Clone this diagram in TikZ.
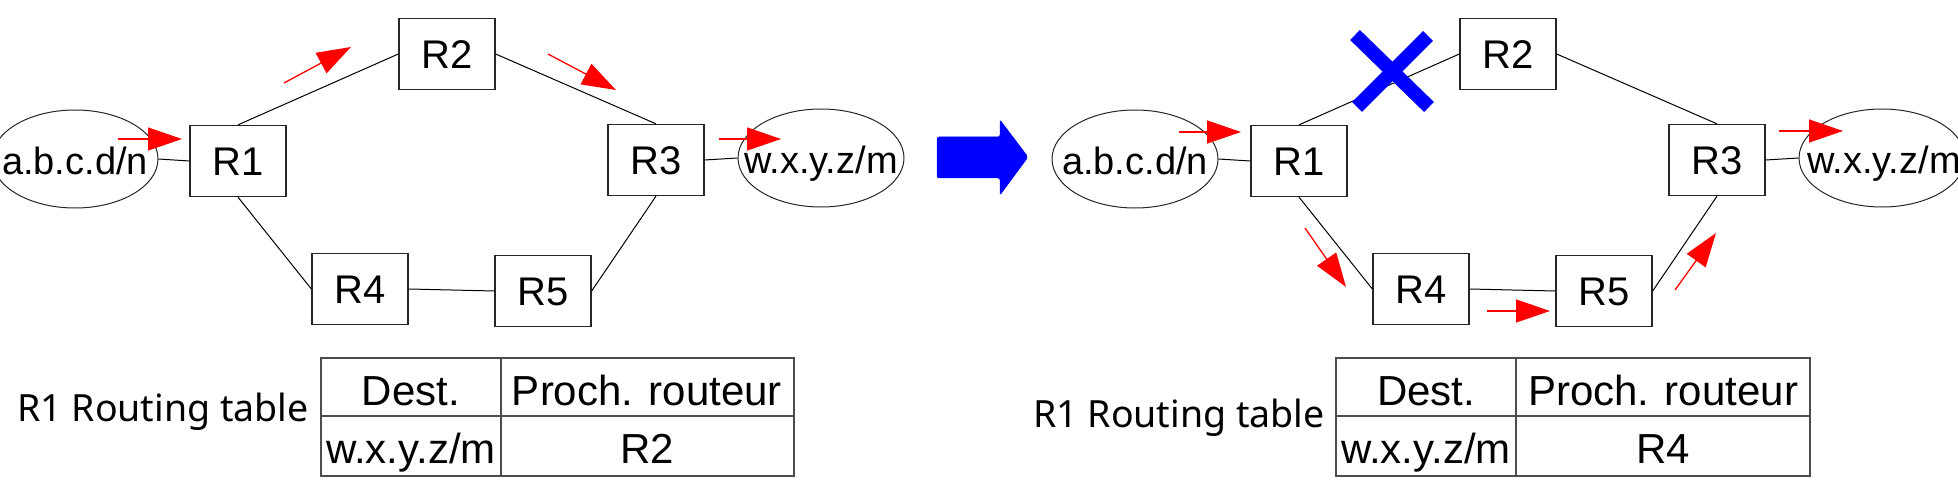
\documentclass[tikz,border=0pt]{standalone}
\usepackage{fontspec}
\setmainfont{Liberation Sans}
\newfontfamily\notosans{Noto Sans}
\usetikzlibrary{arrows.meta,shapes.geometric}
\begin{document}
\begin{tikzpicture}[x=1pt,y=-1pt,
  router/.style={draw=black!85,line width=1.3pt,minimum width=96pt,minimum height=71pt,inner sep=0pt,font=\fontsize{40}{48}\selectfont,text height=28.6pt,text depth=0pt},
  net/.style={draw=black!85,line width=1pt,ellipse,minimum width=166pt,minimum height=98pt,inner sep=0pt},
  nettext/.style={font=\fontsize{38}{46}\selectfont,text height=27.2pt,text depth=0pt,inner sep=0pt},
  link/.style={draw=black,line width=1pt},
  flow/.style={draw=red,line width=1.3pt,-{Triangle[length=34pt,width=23pt]}},
  tab/.style={draw=black!70,line width=1.3pt},
  tabtext/.style={font=\fontsize{42}{50}\selectfont,anchor=base,inner sep=0pt},
  caption/.style={font=\notosans\fontsize{37.5}{45}\selectfont,anchor=base west,inner sep=0pt},
  bigarrow/.style={fill=blue,draw=blue,line width=0.5pt,rounded corners=2pt},
  cross/.style={draw=blue,line width=14pt}
]
\useasboundingbox (0,0) rectangle (1958,489);

% ---------- left network ----------
\node[net] (La) at (75,159) {};
\node[nettext] (Lat) at (75,161) {a.b.c.d/n};
\node[net] (Lw) at (821,158) {};
\node[nettext] (Lwt) at (821,160) {w.x.y.z/m};
\node[router] (L1) at (238,161) {R1};
\node[router] (L2) at (447,54) {R2};
\node[router] (L3) at (656,160) {R3};
\node[router] (L4) at (360,289) {R4};
\node[router] (L5) at (543,291) {R5};
\draw[link] (La.east) -- (L1.west);
\draw[link] (L1.north) -- (L2.west);
\draw[link] (L2.east) -- (L3.north);
\draw[link] (L1.south) -- (L4.west);
\draw[link] (L4.east) -- (L5.west);
\draw[link] (L5.east) -- (L3.south);
\draw[link] (L3.east) -- (Lw.west);

\coordinate (lf1s) at (118,139); \coordinate (lf1e) at (182,139);
\coordinate (lf2s) at (284,83);  \coordinate (lf2e) at (351,47);
\coordinate (lf3s) at (548,54);  \coordinate (lf3e) at (616,90);
\coordinate (lf4s) at (719,139); \coordinate (lf4e) at (781,139);
\draw[flow] (lf1s) -- (lf1e);
\draw[flow] (lf2s) -- (lf2e);
\draw[flow] (lf3s) -- (lf3e);
\draw[flow] (lf4s) -- (lf4e);

% ---------- big blue arrow ----------
\path[bigarrow] (937,137) -- (1000,137) -- (1000,120) -- (1028,157) -- (1000,195) -- (1000,178) -- (937,178) -- cycle;

% ---------- right network ----------
\node[net] (Ra) at (1135,159) {};
\node[nettext] (Rat) at (1135,161) {a.b.c.d/n};
\node[net] (Rw) at (1882,158) {};
\node[nettext] (Rwt) at (1884,160) {w.x.y.z/m};
\node[router] (R1) at (1299,161) {R1};
\node[router] (R2) at (1508,54) {R2};
\node[router] (R3) at (1717,160) {R3};
\node[router] (R4) at (1421,289) {R4};
\node[router] (R5) at (1604,291) {R5};
\draw[link] (Ra.east) -- (R1.west);
\draw[link] (R1.north) -- (R2.west);
\draw[link] (R2.east) -- (R3.north);
\draw[link] (R1.south) -- (R4.west);
\draw[link] (R4.east) -- (R5.west);
\draw[link] (R5.east) -- (R3.south);
\draw[link] (R3.east) -- (Rw.west);

\coordinate (rf1s) at (1179,132); \coordinate (rf1e) at (1241,132);
\coordinate (rf2s) at (1305,228); \coordinate (rf2e) at (1346,287);
\coordinate (rf3s) at (1487,311); \coordinate (rf3e) at (1550,311);
\coordinate (rf4s) at (1675,290); \coordinate (rf4e) at (1716,233);
\coordinate (rf5s) at (1779,131); \coordinate (rf5e) at (1843,131);
\draw[flow] (rf1s) -- (rf1e);
\draw[flow] (rf2s) -- (rf2e);
\draw[flow] (rf3s) -- (rf3e);
\draw[flow] (rf4s) -- (rf4e);
\draw[flow] (rf5s) -- (rf5e);

% blue cross on the broken link
\coordinate (xa) at (1355,35); \coordinate (xb) at (1429,107);
\coordinate (xc) at (1428,36); \coordinate (xd) at (1357,107);
\draw[cross] (xa) -- (xb);
\draw[cross] (xc) -- (xd);

% ---------- left table ----------
\node[caption] (Lcap) at (17,421) {R1 Routing table};
\draw[tab] (321,358) rectangle (794,476);
\draw[tab] (501,358) -- (501,476);
\draw[tab] (321,416) -- (794,416);
\node[tabtext] (Ld) at (411,405) {Dest.};
\node[tabtext] (Lp) at (647,405) {Proch. routeur};
\node[tabtext] (Lw2) at (411,463) {w.x.y.z/m};
\node[tabtext] (Lr) at (647,463) {R2};

% ---------- right table ----------
\node[caption] (Rcap) at (1033,427) {R1 Routing table};
\draw[tab] (1336,358) rectangle (1810,476);
\draw[tab] (1516,358) -- (1516,476);
\draw[tab] (1336,416) -- (1810,416);
\node[tabtext] (Rd) at (1426,405) {Dest.};
\node[tabtext] (Rp) at (1663,405) {Proch. routeur};
\node[tabtext] (Rw2) at (1426,463) {w.x.y.z/m};
\node[tabtext] (Rr) at (1663,463) {R4};
\end{tikzpicture}
\end{document}
